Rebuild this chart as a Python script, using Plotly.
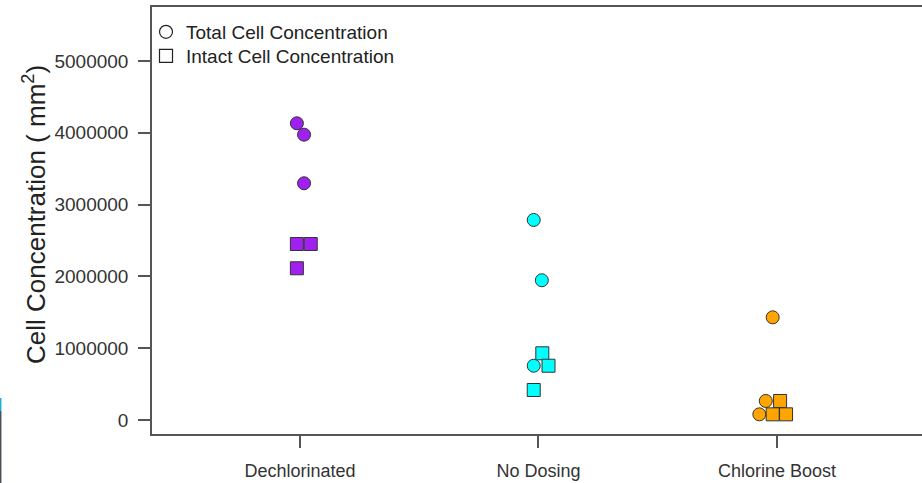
import plotly.graph_objects as go

# Treatment groups and their axis positions
categories = ["Dechlorinated", "No Dosing", "Chlorine Boost"]
category_pos = [1, 2, 3]
group_colors = ["#a020f0", "#00ffff", "#ffa500"]

# Total cell concentration (circles), three replicates per treatment
total_cells = {
    "Dechlorinated": [4132000, 3974000, 3297000],
    "No Dosing": [2786000, 1946000, 756000],
    "Chlorine Boost": [1430000, 265000, 79000],
}
# Intact cell concentration (squares), three replicates per treatment
intact_cells = {
    "Dechlorinated": [2451000, 2451000, 2113000],
    "No Dosing": [929000, 756000, 418000],
    "Chlorine Boost": [265000, 79000, 79000],
}

# Horizontal jitter applied to each replicate
total_jitter = {
    "Dechlorinated": [-0.013, 0.017, 0.017],
    "No Dosing": [-0.020, 0.014, -0.020],
    "Chlorine Boost": [-0.018, -0.047, -0.074],
}
intact_jitter = {
    "Dechlorinated": [-0.013, 0.045, -0.013],
    "No Dosing": [0.016, 0.042, -0.020],
    "Chlorine Boost": [0.013, -0.018, 0.038],
}

y_ticks = [0, 1000000, 2000000, 3000000, 4000000, 5000000]

FONT = "Liberation Sans, Arial, sans-serif"
EDGE = "#333333"
MSIZE = 13

fig = go.Figure()

# Circles first, then squares drawn on top
for series, jitter, symbol in [(total_cells, total_jitter, "circle"),
                               (intact_cells, intact_jitter, "square")]:
    for cat, pos, col in zip(categories, category_pos, group_colors):
        vals = series[cat]
        xs = [pos + j for j in jitter[cat]]
        fig.add_trace(go.Scatter(
            x=xs, y=vals, mode="markers", showlegend=False,
            marker=dict(symbol=symbol, size=MSIZE, color=col,
                        line=dict(color=EDGE, width=1)),
            hoverinfo="y",
        ))

L, T, B, W, H = 152, 7, 49, 922, 483
plot_w = W - L
plot_h = H - T - B

# Legend entries (open symbols), each in its own legend box
for name, symbol, lg in [("Total Cell Concentration", "circle-open", "legend"),
                         ("Intact Cell Concentration", "square-open", "legend2")]:
    fig.add_trace(go.Scatter(
        x=[None], y=[None], mode="markers", name=name, legend=lg,
        marker=dict(symbol=symbol, size=MSIZE, color="#222222",
                    line=dict(width=1.2)),
    ))

legend_style = dict(xanchor="left", yanchor="top",
                    bgcolor="rgba(0,0,0,0)", borderwidth=0,
                    font=dict(family=FONT, size=19, color="#222222"),
                    itemwidth=30)

fig.update_layout(
    width=W, height=H,
    margin=dict(l=L, r=0, t=T, b=B, pad=0),
    paper_bgcolor="white", plot_bgcolor="white",
    font=dict(family=FONT, size=19, color="#333333"),
    showlegend=True,
    legend=dict(x=-6 / plot_w, y=(H - B - 13) / plot_h, **legend_style),
    legend2=dict(x=-6 / plot_w, y=(H - B - 37) / plot_h, **legend_style),
    xaxis=dict(
        range=[0.3795, 3.608],
        tickmode="array", tickvals=category_pos, ticktext=categories,
        showgrid=False, zeroline=False,
        showline=True, linecolor="#555555", linewidth=1.5, mirror=True,
        ticks="outside", ticklen=12, tickcolor="#555555", tickwidth=1.5,
        ticklabelstandoff=8,
        tickfont=dict(family=FONT, size=18, color="#333333"),
    ),
    yaxis=dict(
        range=[-195000, 5752000],
        tickmode="array", tickvals=y_ticks,
        ticktext=[str(v) for v in y_ticks],
        showgrid=False, zeroline=False,
        showline=True, linecolor="#555555", linewidth=1.5, mirror=False,
        ticks="outside", ticklen=12, tickcolor="#555555", tickwidth=1.5,
        ticklabelstandoff=6,
        tickfont=dict(family=FONT, size=19, color="#333333"),
    ),
    annotations=[dict(
        text="Cell Concentration ( mm<sup>2</sup>)",
        xref="paper", yref="paper",
        x=(34 - L) / plot_w, y=(H - B - 215) / plot_h,
        xanchor="center", yanchor="middle", textangle=-90,
        showarrow=False,
        font=dict(family=FONT, size=26, color="#222222"),
    )],
    shapes=[
        dict(type="line", xref="paper", yref="paper",
             x0=(0.7 - L) / plot_w, x1=(0.7 - L) / plot_w,
             y0=(H - B - 398) / plot_h, y1=(H - B - 411) / plot_h,
             line=dict(color="#1ab0e0", width=1.5)),
        dict(type="line", xref="paper", yref="paper",
             x0=(0.7 - L) / plot_w, x1=(0.7 - L) / plot_w,
             y0=(H - B - 411) / plot_h, y1=(H - B - 483) / plot_h,
             line=dict(color="#4a5055", width=1.5)),
    ],
)

fig.write_html("out.html")
